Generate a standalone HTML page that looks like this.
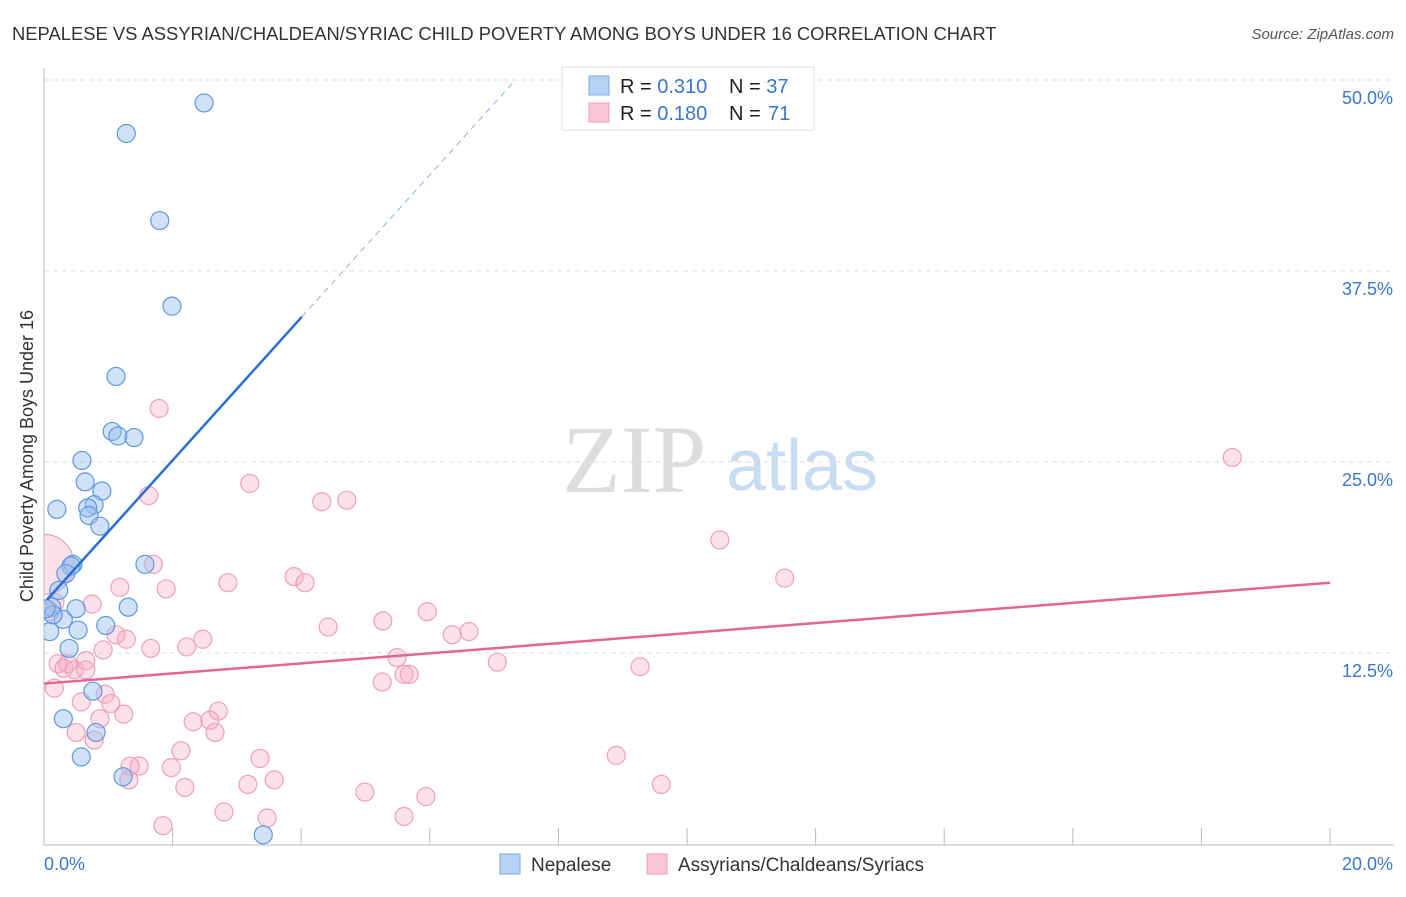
<!DOCTYPE html>
<html><head><meta charset="utf-8"><style>
body{margin:0;background:#fff;font-family:"Liberation Sans",sans-serif}
</style></head><body>
<svg id="c" width="1406" height="892" xmlns="http://www.w3.org/2000/svg">
<defs><clipPath id="plot"><rect x="44" y="60" width="1360" height="785"/></clipPath></defs>
<text x="12" y="40" font-size="18.4" fill="#333">NEPALESE VS ASSYRIAN/CHALDEAN/SYRIAC CHILD POVERTY AMONG BOYS UNDER 16 CORRELATION CHART</text>
<text x="1394" y="39" font-size="15" fill="#555" font-style="italic" text-anchor="end">Source: ZipAtlas.com</text>
<text x="634" y="492" font-size="96" fill="#ddd" font-family="Liberation Serif" text-anchor="middle">ZIP</text>
<text x="802" y="490" font-size="72" fill="#c8dcf2" text-anchor="middle">atlas</text>
<text transform="translate(33,456) rotate(-90)" font-size="18" fill="#333" text-anchor="middle">Child Poverty Among Boys Under 16</text>
<g id="grid"></g><g id="pts" clip-path="url(#plot)"></g><g id="trend"></g>
<g>
<rect x="562" y="67" width="252" height="63" fill="#fff" stroke="#ddd"/>
<rect x="589" y="76" width="20" height="19" fill="#b5d2f5" stroke="#7aaae6"/>
<rect x="589" y="103" width="20" height="19" fill="#f9c7d6" stroke="#ee9cb7"/>
<text x="620" y="93" font-size="20" fill="#222">R = <tspan fill="#3a76d0">0.310</tspan></text>
<text x="729" y="93" font-size="20" fill="#222">N = <tspan fill="#3a76d0">37</tspan></text>
<text x="620" y="120" font-size="20" fill="#222">R = <tspan fill="#3a76d0">0.180</tspan></text>
<text x="729" y="120" font-size="20" fill="#222">N = <tspan fill="#3a76d0" x="768">71</tspan></text>
</g>
<g>
<rect x="500" y="854" width="20" height="20" fill="#b5d2f5" stroke="#7aaae6"/>
<text x="531" y="871" font-size="19" fill="#333">Nepalese</text>
<rect x="647" y="854" width="20" height="20" fill="#f9c7d6" stroke="#ee9cb7"/>
<text x="678" y="871" font-size="19" fill="#333">Assyrians/Chaldeans/Syriacs</text>
</g>
</svg>
<script>
const xTicks=[0,20];
const yTicks=[12.5,25,37.5,50];
const blueX=[2.49,1.28,1.80,1.99,1.12,1.06,1.15,1.40,0.59,0.64,0.90,0.20,0.78,0.68,0.70,0.87,0.45,0.42,1.57,0.34,0.23,0.12,0.30,0.50,1.31,0.14,0.09,0.53,0.96,0.39,0.76,0.30,0.81,0.58,1.23,3.41,0.03];
const blueY=[48.5,46.5,40.8,35.2,30.6,27.0,26.7,26.6,25.1,23.7,23.1,21.9,22.2,22.0,21.5,20.8,18.3,18.2,18.3,17.7,16.6,15.5,14.7,15.4,15.5,15.0,13.9,14.0,14.3,12.8,10.0,8.2,7.3,5.7,4.4,0.6,15.4];
const pinkX=[1.79,3.20,1.63,4.32,4.71,18.48,10.51,11.52,1.70,1.18,1.90,2.86,3.89,4.06,5.96,0.75,0.17,0.09,1.12,1.28,1.66,0.92,2.22,2.47,4.42,5.27,6.35,6.61,5.49,5.60,5.68,5.26,7.05,9.27,0.22,0.31,0.37,0.47,0.65,0.65,0.16,0.58,0.95,1.04,2.71,2.32,2.58,0.87,1.24,0.50,0.78,2.66,2.13,1.98,1.48,1.32,1.34,3.36,3.58,3.17,2.19,4.99,5.94,8.90,9.60,2.80,3.47,5.60,1.85,0.0];
const pinkY=[28.5,23.6,22.8,22.4,22.5,25.3,19.9,17.4,18.3,16.8,16.7,17.1,17.5,17.1,15.2,15.7,15.8,15.2,13.7,13.4,12.8,12.7,12.9,13.4,14.2,14.6,13.7,13.9,12.2,11.1,11.1,10.6,11.9,11.6,11.8,11.5,11.8,11.4,12.0,11.4,10.2,9.3,9.8,9.2,8.7,8.0,8.1,8.2,8.5,7.3,6.8,7.3,6.1,5.0,5.1,4.2,5.1,5.6,4.2,3.9,3.7,3.4,3.1,5.8,3.9,2.1,1.7,1.8,1.2,18.3];
const blueTrend=[[0.05,16.0],[4.01,34.5],[7.33,50]];
const pinkTrend=[[0,10.5],[20,17.1]];
const NS='http://www.w3.org/2000/svg';
const X=v=>44+v/20*1286, Y=v=>844-v*15.28;
function mk(t,a,p){const e=document.createElementNS(NS,t);for(const k in a)e.setAttribute(k,a[k]);p.appendChild(e);return e;}
const g=document.getElementById('grid');
yTicks.forEach(t=>{const l=mk('line',{x1:44,x2:1394,y1:Y(t),y2:Y(t),stroke:'#ddd','stroke-dasharray':'5,4'},g);


const tx=mk('text',{x:1393,y:Y(t)+24,'font-size':18,fill:'#3a76d0','text-anchor':'end'},g);tx.textContent=t.toFixed(1)+'%';

});
mk('line',{x1:44,x2:44,y1:68,y2:845,stroke:'#bbb'},g);
mk('line',{x1:44,x2:1394,y1:845,y2:845,stroke:'#bbb'},g);
for(let i=0;i<=10;i++){const l=mk('line',{x1:X(i*2),x2:X(i*2),y1:828,y2:845,stroke:'#bbb'},g);

}
xTicks.forEach((t,i)=>{const tx=mk('text',{x:i?1393:44,y:870,'font-size':18,fill:'#3a76d0','text-anchor':i?'end':'start'},g);tx.textContent=t.toFixed(1)+'%';

});
const p=document.getElementById('pts');
pinkX.forEach((v,i)=>{const c=mk('circle',{cx:X(v),cy:Y(pinkY[i]),r:i==pinkX.length-1?30:9,fill:'rgba(246,170,196,0.35)',stroke:'#ee9fba','stroke-width':1.2},p);

});
blueX.forEach((v,i)=>{const c=mk('circle',{cx:X(v),cy:Y(blueY[i]),r:9,fill:'rgba(150,190,240,0.45)',stroke:'#5f98e0','stroke-width':1.2},p);

});
const tg=document.getElementById('trend');
let l=mk('line',{x1:X(blueTrend[0][0]),y1:Y(blueTrend[0][1]),x2:X(blueTrend[1][0]),y2:Y(blueTrend[1][1]),stroke:'#2a6fd6','stroke-width':2.5},tg);


l=mk('line',{x1:X(blueTrend[1][0]),y1:Y(blueTrend[1][1]),x2:X(blueTrend[2][0]),y2:Y(blueTrend[2][1]),stroke:'#8ab0e6','stroke-width':1,'stroke-dasharray':'6,5'},tg);


l=mk('line',{x1:X(pinkTrend[0][0]),y1:Y(pinkTrend[0][1]),x2:X(pinkTrend[1][0]),y2:Y(pinkTrend[1][1]),stroke:'#e4668f','stroke-width':2.5},tg);


</script>
</body></html>
